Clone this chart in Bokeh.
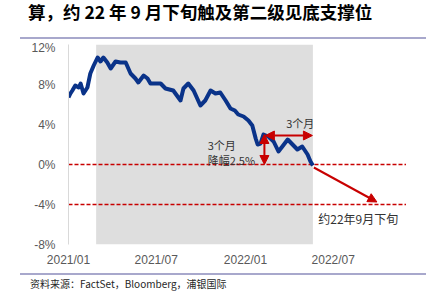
from datetime import datetime
from bokeh.plotting import figure
from bokeh.layouts import column
from bokeh.models import (FixedTicker, PrintfTickFormatter, DatetimeTickFormatter, BoxAnnotation,
                          Arrow, NormalHead, Label, ColumnDataSource, Range1d, Div)
from bokeh.embed import file_html
from bokeh.resources import INLINE

dates = ["2021-01-01", "2021-01-05", "2021-01-09", "2021-01-15", "2021-01-22", "2021-01-26",
         "2021-02-01", "2021-02-09", "2021-02-15", "2021-02-22", "2021-03-02", "2021-03-08",
         "2021-03-14", "2021-03-22", "2021-03-29", "2021-04-08", "2021-04-18", "2021-04-29",
         "2021-05-09", "2021-05-19", "2021-05-25", "2021-06-05", "2021-06-13", "2021-06-19",
         "2021-07-10", "2021-07-20", "2021-08-05", "2021-08-20", "2021-08-26", "2021-09-05",
         "2021-09-16", "2021-09-30", "2021-10-10", "2021-10-21", "2021-10-31", "2021-11-10",
         "2021-11-21", "2021-12-01", "2021-12-10", "2021-12-17", "2021-12-28", "2022-01-07",
         "2022-01-15", "2022-01-22", "2022-01-26", "2022-02-01", "2022-02-07", "2022-02-17",
         "2022-02-28", "2022-03-10", "2022-03-18", "2022-03-29", "2022-04-08", "2022-04-18",
         "2022-04-28", "2022-05-09", "2022-05-15", "2022-05-20"]
values = [6.7, 7.1, 7.4, 7.9, 7.7, 8.1,
          7.1, 7.7, 9.1, 9.9, 10.7, 10.3,
          10.7, 10.2, 9.6, 10.3, 10.2, 10.2,
          9.1, 8.6, 8.2, 8.9, 8.6, 8.1,
          8.1, 7.6, 7.4, 6.4, 7.6, 8.1,
          7.4, 5.9, 6.4, 7.4, 7.1, 7.2,
          6.4, 5.6, 5.4, 5.0, 4.8, 4.4,
          3.9, 2.6, 2.0, 2.1, 3.0, 2.8,
          2.3, 1.3, 1.8, 2.5, 2.0, 1.5,
          1.8, 1.0, 0.3, -0.1]

y_ticks = [-8, -4, 0, 4, 8, 12]
x_tick_dates = ["2021-01-01", "2021-07-01", "2022-01-01", "2022-07-01"]
support_levels = [0, -4]
shade_period = ["2021-02-27", "2022-05-20"]

title_text = "算，约 22 年 9 月下旬触及第二级见底支撑位"
source_text = "资料来源：FactSet，Bloomberg，浦银国际"

def ms(s):
    return datetime.strptime(s, "%Y-%m-%d").timestamp() * 1000

RED = "#c80000"
CJK = "Noto Sans CJK SC"
RULE = "#a8a8cc"

p = figure(width=435, height=232, x_axis_type="datetime", output_backend="svg",
           toolbar_location=None, min_border_left=68, min_border_right=13,
           min_border_top=4, min_border_bottom=28)
p.x_range = Range1d(ms("2021-01-01"), ms("2023-01-01"))
p.y_range = Range1d(-8, 12)
p.outline_line_color = None
p.grid.visible = False
p.background_fill_color = "white"
p.border_fill_color = "white"

# axes
p.yaxis.ticker = FixedTicker(ticks=y_ticks)
p.yaxis.formatter = PrintfTickFormatter(format="%d%%")
p.yaxis.axis_line_color = "#d9d9d9"
p.yaxis.major_tick_line_color = None
p.yaxis.minor_tick_line_color = None
p.yaxis.major_tick_out = 0
p.yaxis.major_label_standoff = 13
p.xaxis.ticker = FixedTicker(ticks=[ms(d) for d in x_tick_dates])
fmt = "%Y/%m"
p.xaxis.formatter = DatetimeTickFormatter(days=fmt, months=fmt, years=fmt)
p.xaxis.axis_line_color = None
p.xaxis.major_tick_line_color = None
p.xaxis.minor_tick_line_color = None
p.xaxis.major_tick_out = 0
p.xaxis.major_label_standoff = 8
for ax in (p.xaxis, p.yaxis):
    ax.major_label_text_font = "Liberation Sans"
    ax.major_label_text_font_size = "12px"
    ax.major_label_text_color = "#595959"

# shaded period
p.add_layout(BoxAnnotation(left=ms(shade_period[0]), right=ms(shade_period[1]),
                           fill_color="#dedede", fill_alpha=1, line_color=None, level="underlay"))

# support lines
seg = ColumnDataSource(dict(x0=[ms("2021-01-01")] * 2, x1=[ms("2022-11-28")] * 2,
                            y=support_levels))
p.segment(x0="x0", x1="x1", y0="y", y1="y", source=seg, line_color=RED,
          line_width=1.5, line_dash="4 2")

# main line
src = ColumnDataSource(dict(x=[ms(d) for d in dates], y=values))
p.line("x", "y", source=src, line_color="#0a3389", line_width=4, line_join="round")

def head():
    return NormalHead(size=9, fill_color=RED, line_color=RED)

p.add_layout(Arrow(x_start=ms("2022-02-09"), y_start=3.0, x_end=ms("2022-02-09"), y_end=0.0,
                   start=head(), end=head(), line_color=RED, line_width=2))
p.add_layout(Arrow(x_start=ms("2022-02-11"), y_start=2.9, x_end=ms("2022-05-19"), y_end=2.9,
                   start=head(), end=head(), line_color=RED, line_width=2))
p.add_layout(Arrow(x_start=ms("2022-05-22"), y_start=-0.3, x_end=ms("2022-09-29"), y_end=-3.75,
                   end=head(), line_color=RED, line_width=2))

def lab(x, y, t, align="left", size="11px"):
    p.add_layout(Label(x=x, y=y, text=t, text_font=CJK, text_font_size=size,
                       text_color="#333333", text_align=align, text_baseline="middle"))

lab(ms("2022-04-24"), 4.2, "3个月", align="center")
lab(ms("2021-10-15"), 2.0, "3个月")
lab(ms("2021-10-15"), 0.5, "降幅2.5%")
lab(ms("2022-05-31"), -5.4, "约22年9月下旬", size="12px")

title_div = Div(width=435, height=40, margin=0, text=(
    '<div style="position:relative;width:435px;height:40px;overflow:hidden;">'
    '<div style="position:absolute;left:28px;top:1px;font-family:\'Noto Sans CJK SC\';'
    'font-size:17.5px;font-weight:bold;color:#000;white-space:nowrap;line-height:22px;">'
    + title_text + '</div>'
    '<div style="position:absolute;left:20px;top:37px;width:406px;height:2px;background:'
    + RULE + ';"></div></div>'))

source_div = Div(width=435, height=36, margin=0, text=(
    '<div style="position:relative;width:435px;height:36px;overflow:hidden;">'
    '<div style="position:absolute;left:20px;top:1px;width:406px;height:2px;background:'
    + RULE + ';"></div>'
    '<div style="position:absolute;left:30px;top:5px;font-family:\'Noto Sans CJK SC\';'
    'font-size:10px;color:#262626;white-space:nowrap;line-height:14px;">'
    + source_text + '</div></div>'))

layout = column(title_div, p, source_div, spacing=0)

open("out.html", "w").write(file_html(layout, INLINE))
